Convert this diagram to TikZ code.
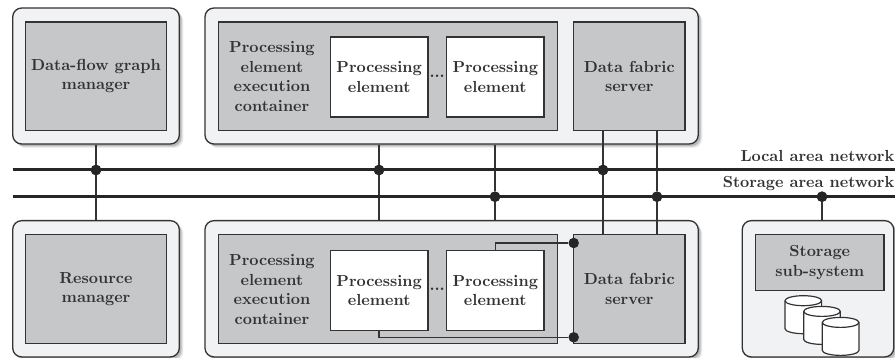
\documentclass[tikz,border=0pt]{standalone}
\usetikzlibrary{shadows,calc}
\definecolor{ink}{HTML}{333335}
\definecolor{outerfill}{HTML}{F1F2F4}
\definecolor{innerfill}{HTML}{C6C7C9}
\font\pxbold=cmbx10 at 16pt
\tikzset{
  softshadow/.style={
    drop shadow={shadow xshift=4pt,shadow yshift=-4pt,fill=black,opacity=.07},
    drop shadow={shadow xshift=3pt,shadow yshift=-3pt,fill=black,opacity=.10},
    drop shadow={shadow xshift=2pt,shadow yshift=-2pt,fill=black,opacity=.14}},
  outerbox/.style={draw=ink,line width=1.3pt,fill=outerfill,rounded corners=9pt,softshadow,inner sep=0pt},
  innerbox/.style={draw=ink,line width=1.3pt,fill=innerfill,align=center,inner sep=0pt,text=ink},
  pebox/.style={draw=ink,line width=1.3pt,fill=white,align=center,inner sep=0pt,text=ink,minimum width=97.5pt,minimum height=80pt},
  label/.style={align=center,inner sep=0pt,text=ink},
  conn/.style={draw=ink,line width=1.5pt},
  bus/.style={draw=black!85,line width=2.6pt},
  dot/.style={circle,fill=black!85,inner sep=0pt,minimum size=10.5pt},
  cyl/.style={draw=ink,line width=1.2pt,fill=white}
}
\newcommand{\cylinderat}[2]{% left x, top centre y
  \path[cyl] (#1,#2) -- (#1,#2+28) arc[start angle=180,end angle=0,x radius=18.3,y radius=5]
    -- (#1+36.6,#2) arc[start angle=0,end angle=-180,x radius=18.3,y radius=5] -- cycle;
  \path[cyl,fill=none] (#1,#2) arc[start angle=180,end angle=0,x radius=18.3,y radius=5];
}
\begin{document}
\begin{tikzpicture}[x=1pt,y=-1pt,font=\fontsize{16}{19.4}\selectfont\pxbold]
\useasboundingbox (0,0) rectangle (895,358);
% outer boxes
\node[outerbox,minimum width=166.6pt,minimum height=136pt] (oa) at (96,76) {};
\node[outerbox,minimum width=493.3pt,minimum height=136pt] (ob) at (451.6,76) {};
\node[outerbox,minimum width=166.6pt,minimum height=136.3pt] (oc) at (96,288.8) {};
\node[outerbox,minimum width=493.3pt,minimum height=136.3pt] (od) at (451.6,288.8) {};
\node[outerbox,minimum width=151.5pt,minimum height=136.3pt] (oe) at (818,288.8) {};
% upper row
\node[innerbox,minimum width=140.6pt,minimum height=108.3pt] (dfm) at (96,76.2) {Data-flow graph\\manager};
\node[innerbox,minimum width=339.4pt,minimum height=108.3pt] (pca) at (388,76.2) {};
\node[label] (pcta) at (272,76.5) {Processing\\element\\execution\\container};
\node[pebox] (pa1) at (379.2,77) {Processing\\element};
\node[pebox] (pa2) at (495.3,77) {Processing\\element};
\node[label] (dotsa) at (437.2,76) {...};
\node[innerbox,minimum width=111.3pt,minimum height=108.3pt] (dfa) at (629.3,76.2) {Data fabric\\server};
% lower row
\node[innerbox,minimum width=140.6pt,minimum height=108.6pt] (rm) at (96,289) {Resource\\manager};
\node[innerbox,minimum width=339.4pt,minimum height=108.6pt] (pcb) at (388,289) {};
\node[label] (pctb) at (272,289.5) {Processing\\element\\execution\\container};
\node[pebox] (pb1) at (379.2,290.2) {Processing\\element};
\node[pebox] (pb2) at (495.3,290.2) {Processing\\element};
\node[label] (dotsb) at (437.2,289) {...};
\node[innerbox,minimum width=111.3pt,minimum height=108.6pt] (dfb) at (629.3,289) {Data fabric\\server};
% storage
\node[innerbox,minimum width=128.3pt,minimum height=55.6pt] (st) at (819.8,262.5) {Storage\\sub-system};
\cylinderat{785}{300.7}
\cylinderat{803.7}{311.4}
\cylinderat{822.3}{322.4}
% buses
\coordinate (lanL) at (12.7,169.7);
\coordinate (lanR) at (895,169.7);
\coordinate (sanL) at (12.7,196.7);
\coordinate (sanR) at (895,196.7);
\node[dot] (d1) at (96,170) {};
\node[dot] (d2) at (379,170) {};
\node[dot] (d3) at (603,170) {};
\node[dot] (d4) at (495,196.7) {};
\node[dot] (d5) at (657,196.7) {};
\node[dot] (d6) at (822,196.7) {};
\node[dot] (d7) at (573.7,243) {};
\node[dot] (d8) at (573.7,337.3) {};
% connectors
\draw[conn] (oa.south) -- (d1) -- (oc.north);
\draw[conn] (d2 |- ob.south) -- (d2) -- (d2 |- od.north);
\draw[conn] (d4 |- ob.south) -- (d4) -- (d4 |- od.north);
\draw[conn] (d3 |- dfa.south) -- (d3) -- (d3 |- dfb.north);
\draw[conn] (d5 |- dfa.south) -- (d5) -- (d5 |- dfb.north);
\draw[conn] (d6) -- (d6 |- oe.north);
\draw[conn] (pb2.north) |- (d7);
\draw[conn] (pb1.south) |- (d8);
\draw[conn] (d7) -- (d8);
\draw[bus] (lanL) -- (lanR);
\draw[bus] (sanL) -- (sanR);
\node[dot] at (d1) {};
\node[dot] at (d2) {};
\node[dot] at (d3) {};
\node[dot] at (d4) {};
\node[dot] at (d5) {};
\node[dot] at (d6) {};
% bus labels
\node[label,anchor=base east] (lanlab) at (894.5,161.5) {Local area network};
\node[label,anchor=base east] (sanlab) at (894.5,188) {Storage area network};
\end{tikzpicture}
\end{document}
